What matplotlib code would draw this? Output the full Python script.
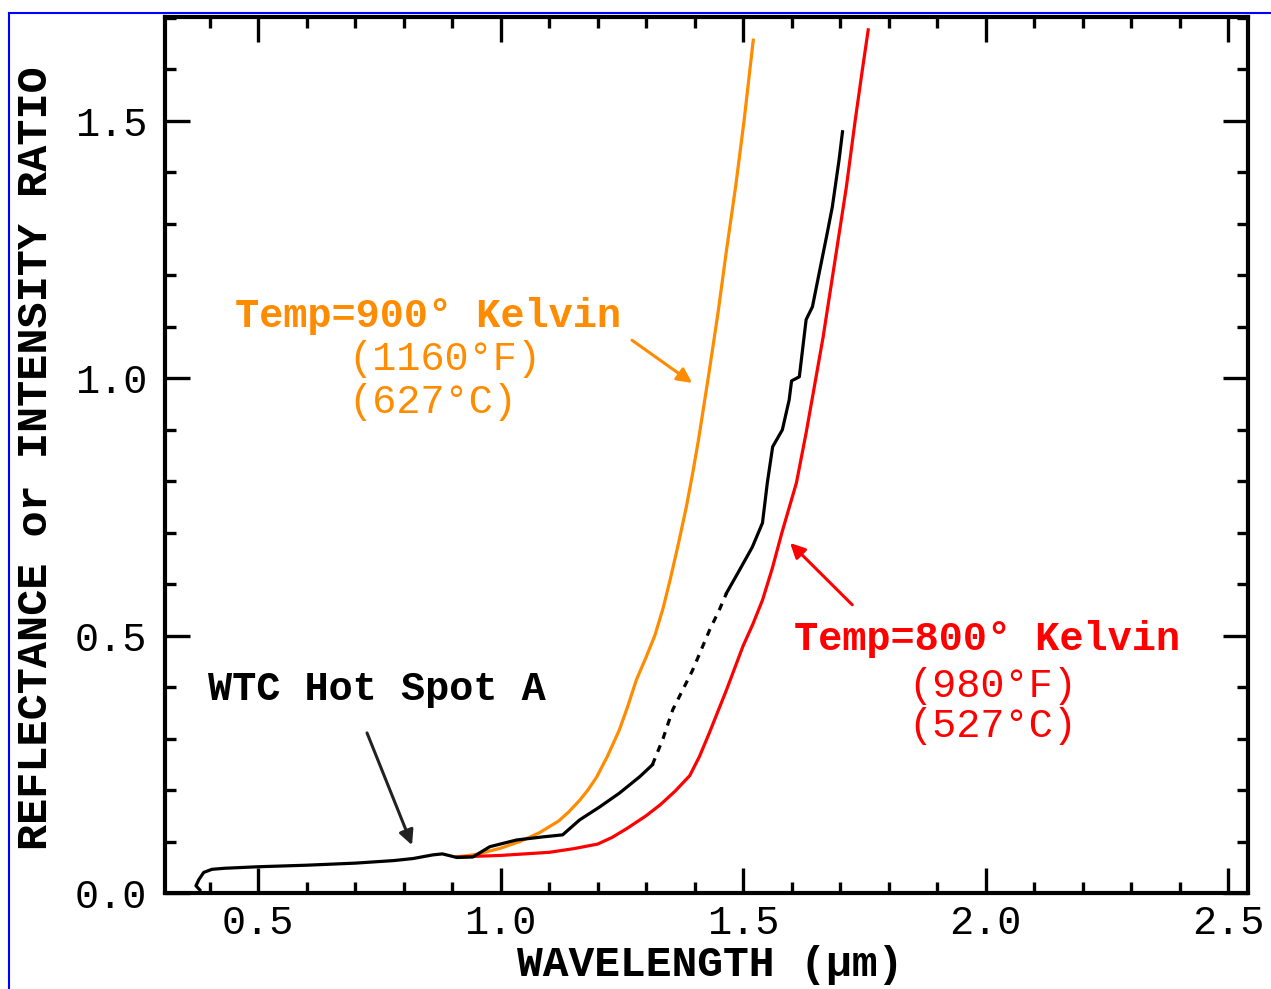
import numpy as np
import matplotlib
matplotlib.use('Agg')
from matplotlib import pyplot as plt
from matplotlib.lines import Line2D
import matplotlib.ticker as ticker

plt.rcParams['font.family'] = ['Liberation Mono', 'DejaVu Sans Mono']

# WTC Hot Spot A: measured part, interpolated (dotted) gap, measured part
wtc_wl_1 = [0.380, 0.372, 0.378, 0.388, 0.405, 0.43, 0.50, 0.60, 0.70, 0.78,
            0.82, 0.86, 0.88, 0.91, 0.943, 0.978, 1.033, 1.087, 1.128, 1.163,
            1.204, 1.245, 1.287, 1.313]
wtc_r_1 = [0.006, 0.014, 0.026, 0.040, 0.046, 0.048, 0.051, 0.054, 0.058, 0.063,
           0.067, 0.074, 0.076, 0.069, 0.070, 0.090, 0.103, 0.109, 0.113, 0.142,
           0.167, 0.194, 0.226, 0.249]
wtc_wl_gap = [1.313, 1.335, 1.355, 1.396, 1.431, 1.451, 1.466]
wtc_r_gap = [0.249, 0.300, 0.356, 0.433, 0.511, 0.550, 0.583]
wtc_wl_2 = [1.466, 1.493, 1.519, 1.540, 1.550, 1.561, 1.581, 1.595, 1.600,
            1.616, 1.630, 1.643, 1.657, 1.672, 1.684, 1.698, 1.705]
wtc_r_2 = [0.583, 0.628, 0.672, 0.719, 0.797, 0.867, 0.900, 0.958, 0.995,
           1.003, 1.114, 1.139, 1.205, 1.275, 1.333, 1.425, 1.479]

# blackbody ratio curves
t900_wl = [0.91, 0.95, 1.00, 1.04, 1.08, 1.12, 1.14, 1.163, 1.18, 1.198, 1.22,
           1.245, 1.262, 1.280, 1.30, 1.318, 1.335, 1.350, 1.367, 1.383, 1.396,
           1.408, 1.428, 1.448, 1.466, 1.485, 1.502, 1.521]
t900_r = [0.070, 0.075, 0.087, 0.100, 0.117, 0.140, 0.157, 0.180, 0.200, 0.225,
          0.265, 0.317, 0.362, 0.414, 0.458, 0.500, 0.553, 0.610, 0.680, 0.750,
          0.815, 0.880, 1.000, 1.125, 1.250, 1.375, 1.500, 1.657]
t800_wl = [0.91, 1.00, 1.10, 1.15, 1.20, 1.23, 1.26, 1.30, 1.33, 1.36, 1.39,
           1.41, 1.43, 1.466, 1.50, 1.52, 1.54, 1.56, 1.58, 1.61, 1.63, 1.65,
           1.665, 1.692, 1.713, 1.731, 1.746, 1.758]
t800_r = [0.070, 0.073, 0.079, 0.086, 0.095, 0.108, 0.125, 0.150, 0.172, 0.198,
          0.228, 0.265, 0.310, 0.395, 0.480, 0.522, 0.569, 0.630, 0.700, 0.797,
          0.894, 1.000, 1.080, 1.244, 1.372, 1.500, 1.600, 1.677]

orange = '#ff8c00'
red = '#ff0000'

W, H = 1271, 989
fig = plt.figure(figsize=(W / 100, H / 100), dpi=100)
ax = fig.add_axes([165 / W, 1 - 893 / H, (1248 - 165) / W, (893 - 17) / H])

lw = 2.3
ax.plot(t900_wl, t900_r, color=orange, lw=lw)
ax.plot(t800_wl, t800_r, color=red, lw=lw)
ax.plot(wtc_wl_1, wtc_r_1, color='black', lw=lw)
ax.plot(wtc_wl_gap, wtc_r_gap, color='black', lw=lw, linestyle=(0, (2.2, 2.2)))
ax.plot(wtc_wl_2, wtc_r_2, color='black', lw=lw)

ax.set_xlim(0.3082, 2.541)
ax.set_ylim(0, 1.702)

ax.xaxis.set_major_locator(ticker.MultipleLocator(0.5))
ax.xaxis.set_minor_locator(ticker.MultipleLocator(0.1))
ax.yaxis.set_major_locator(ticker.MultipleLocator(0.5))
ax.yaxis.set_minor_locator(ticker.MultipleLocator(0.1))
ax.xaxis.set_major_formatter(ticker.FormatStrFormatter('%.1f'))
ax.yaxis.set_major_formatter(ticker.FormatStrFormatter('%.1f'))

ax.tick_params(which='both', direction='in', top=True, right=True, width=2.4,
               labelsize=29)
ax.tick_params(which='major', length=18)
ax.tick_params(which='minor', length=8)
ax.tick_params(axis='x', pad=8)
ax.tick_params(axis='y', pad=13)
for s in ax.spines.values():
    s.set_linewidth(3)

# axis labels
fig.text(710 / W, 1 - 976 / H, 'WAVELENGTH (\u03bcm)', fontsize=31,
         fontweight='bold', ha='center', va='baseline')
fig.text(47 / W, 1 - 458 / H, 'REFLECTANCE or INTENSITY RATIO', fontsize=31.3,
         fontweight='bold', rotation=90, rotation_mode='anchor',
         ha='center', va='baseline')

# annotations
ax.text(0.452, 1.0997, 'Temp=900\u00b0 Kelvin', color=orange, fontsize=29,
        fontweight='bold', va='baseline')
ax.text(0.685, 1.016, '(1160\u00b0F)', color=orange, fontsize=29, va='baseline')
ax.text(0.685, 0.9326, '(627\u00b0C)', color=orange, fontsize=29, va='baseline')
ax.annotate('', xy=(1.395, 0.991), xytext=(1.271, 1.074),
            arrowprops=dict(arrowstyle='-|>', color=orange, lw=2.2,
                            mutation_scale=22, shrinkA=0, shrinkB=0))

ax.text(1.606, 0.472, 'Temp=800\u00b0 Kelvin', color=red, fontsize=29,
        fontweight='bold', va='baseline')
ax.text(1.840, 0.381, '(980\u00b0F)', color=red, fontsize=29, va='baseline')
ax.text(1.840, 0.303, '(527\u00b0C)', color=red, fontsize=29, va='baseline')
ax.annotate('', xy=(1.597, 0.680), xytext=(1.725, 0.560),
            arrowprops=dict(arrowstyle='-|>', color=red, lw=2.2,
                            mutation_scale=22, shrinkA=0, shrinkB=0))

ax.text(0.397, 0.375, 'WTC Hot Spot A', color='black', fontsize=29,
        fontweight='bold', va='baseline')
ax.annotate('', xy=(0.8175, 0.093), xytext=(0.7247, 0.311),
            arrowprops=dict(arrowstyle='-|>', color='#222222', lw=2.2,
                            mutation_scale=22, shrinkA=0, shrinkB=0))

# blue page border (left and top)
fig.add_artist(Line2D([9 / W, 9 / W], [0, 1 - 13 / H], color='#0000ff', lw=1.5))
fig.add_artist(Line2D([9 / W, 1], [1 - 13 / H, 1 - 13 / H], color='#0000ff', lw=1.5))

fig.savefig('out.png', dpi=100)
